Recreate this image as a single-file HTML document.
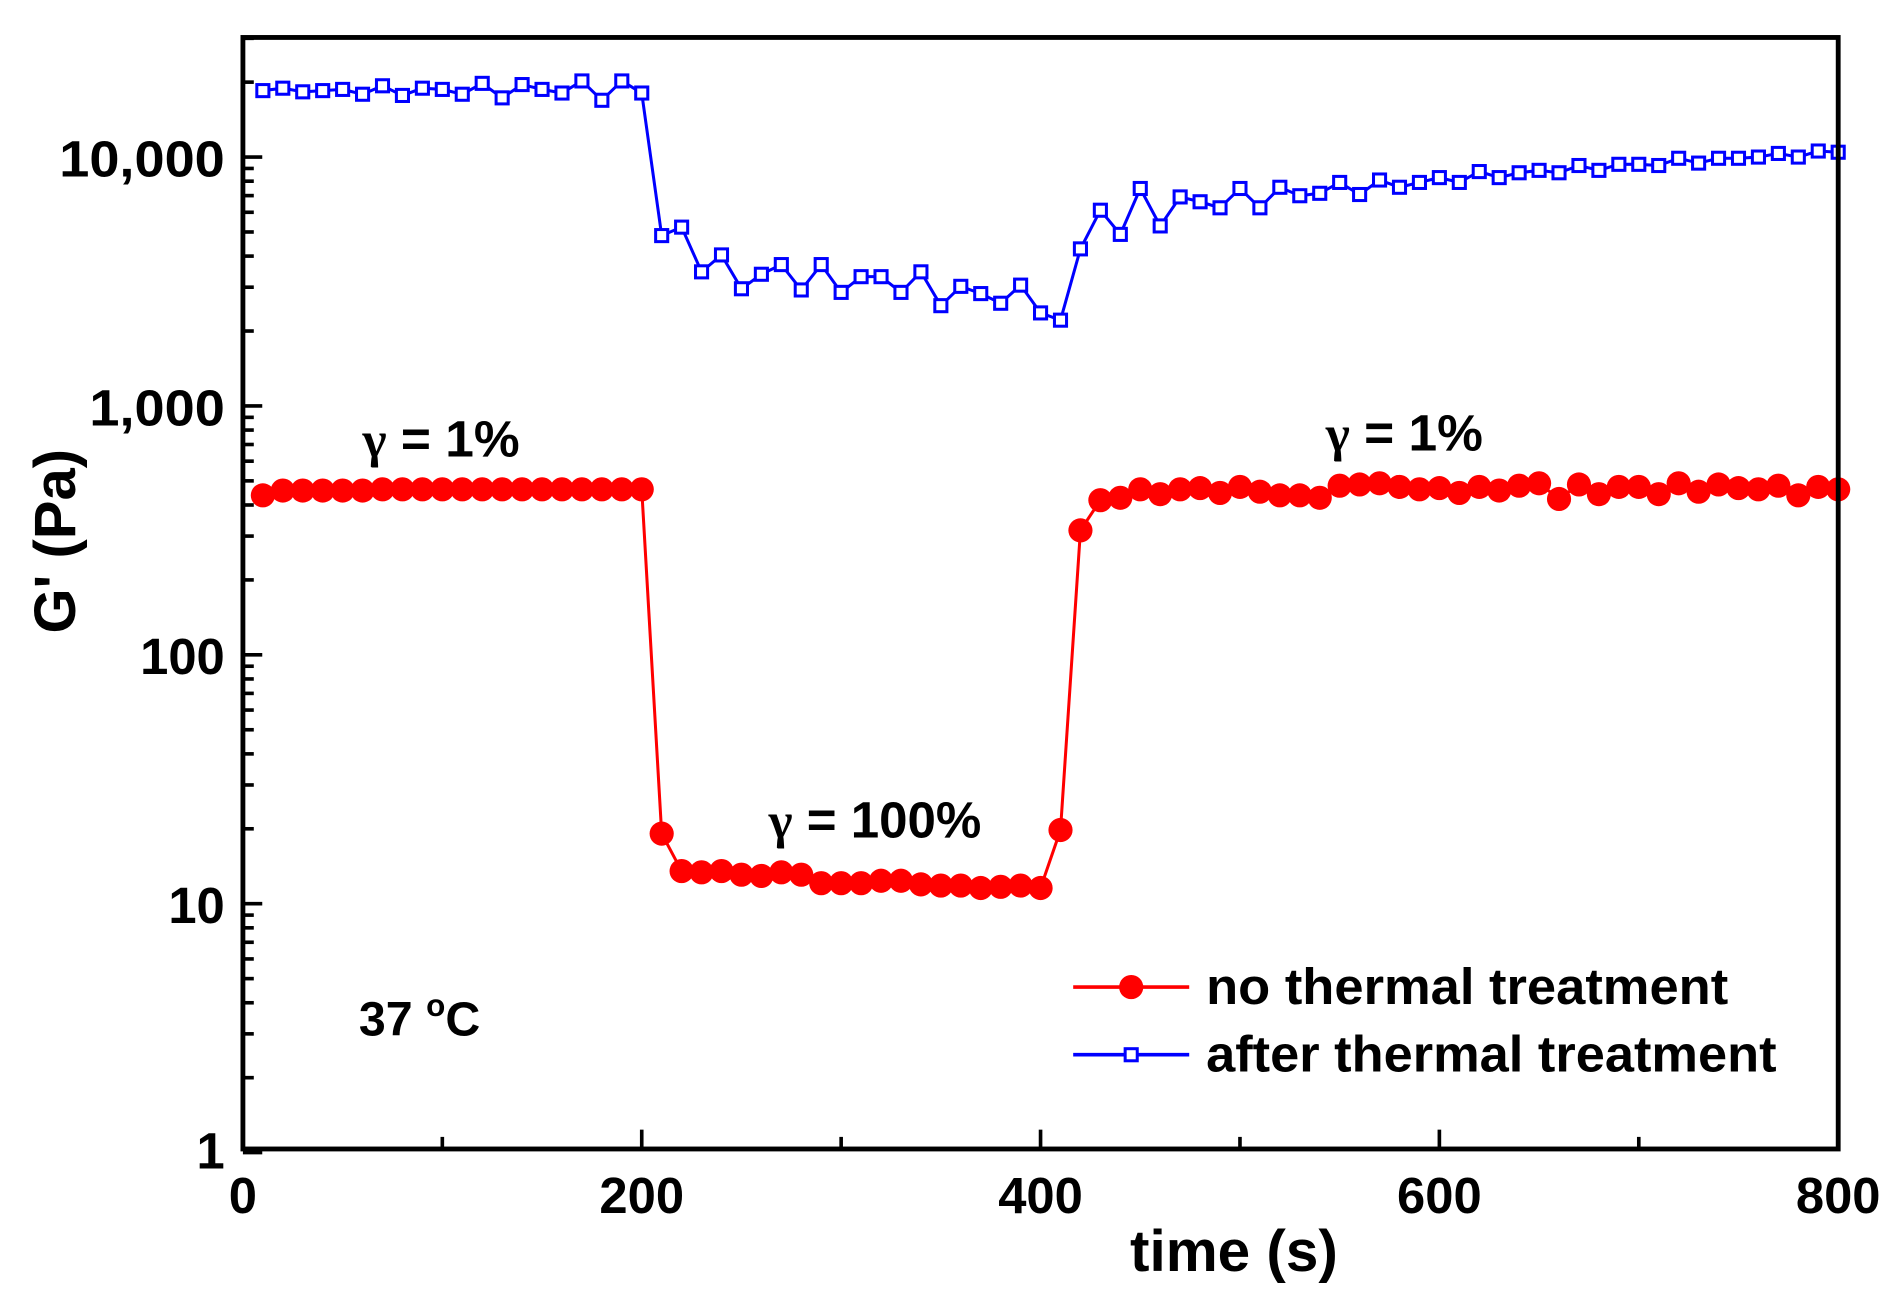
<!DOCTYPE html>
<html><head><meta charset="utf-8"><style>
html,body{margin:0;padding:0;background:#fff;}
svg{display:block;font-family:"Liberation Sans",Arial,sans-serif;font-weight:bold;}
</style></head><body>
<svg id="s" width="1895" height="1300" viewBox="0 0 1568 1076" preserveAspectRatio="none" xmlns="http://www.w3.org/2000/svg">
<rect x="0" y="0" width="1568" height="1076" fill="#fff"/>
<g id="ticks" stroke="#000" stroke-width="3"></g>
<g id="blue"></g>
<g id="red"></g>
<rect x="201" y="31" width="1320" height="920" fill="none" stroke="#000" stroke-width="4"/>
<g font-size="42" text-anchor="end" fill="#000">
<text x="186" y="146" textLength="137" lengthAdjust="spacingAndGlyphs">10,000</text>
<text x="186" y="352" textLength="112" lengthAdjust="spacingAndGlyphs">1,000</text>
<text x="186" y="558">100</text>
<text x="186" y="764">10</text>
<text x="186" y="967">1</text>
</g>
<g font-size="42" text-anchor="middle" fill="#000">
<text x="201" y="1004">0</text>
<text x="531" y="1004">200</text>
<text x="861" y="1004">400</text>
<text x="1191" y="1004">600</text>
<text x="1521" y="1004">800</text>
</g>
<text x="1021" y="1052" font-size="48" text-anchor="middle" textLength="172" lengthAdjust="spacingAndGlyphs">time (s)</text>
<text transform="translate(62,448) rotate(-90)" font-size="48" text-anchor="middle">G' (Pa)</text>
<g font-size="42" fill="#000">
<text x="300" y="378" textLength="130" lengthAdjust="spacingAndGlyphs"><tspan font-family="Liberation Serif">γ</tspan> = 1%</text>
<text x="1097" y="373" textLength="130" lengthAdjust="spacingAndGlyphs"><tspan font-family="Liberation Serif">γ</tspan> = 1%</text>
<text x="636" y="693" textLength="176" lengthAdjust="spacingAndGlyphs"><tspan font-family="Liberation Serif">γ</tspan> = 100%</text>
<text x="297" y="857" font-size="40">37 <tspan dy="-16" font-size="26">o</tspan><tspan dy="16">C</tspan></text>
<text x="998" y="831" textLength="432" lengthAdjust="spacingAndGlyphs">no thermal treatment</text>
<text x="998" y="887" textLength="472" lengthAdjust="spacingAndGlyphs">after thermal treatment</text>
</g>
<line x1="888" y1="817" x2="984" y2="817" stroke="#f00" stroke-width="3"/>
<circle cx="936" cy="817" r="10" fill="#f00"/>
<line x1="888" y1="873" x2="984" y2="873" stroke="#00f" stroke-width="3"/>
<rect x="931" y="868" width="10" height="10" fill="#fff" stroke="#00f" stroke-width="2.5"/>
</svg>
<script>
const NS="http://www.w3.org/2000/svg";
function el(t,a,p){const e=document.createElementNS(NS,t);for(const k in a)e.setAttribute(k,a[k]);p.appendChild(e);return e;}
const X=t=>201+t*1.65;
const B=[75,73,76,75,74,78,71,79,73,74,78,69,81,70,74,77,67,83,67,77,195,188,225,211,239,227,219,240,219,242,229,229,242,225,253,237,243,251,236,259,265,206,174,194,156,187,163,167,172,156,172,155,162,160,151,161,149,155,151,147,151,142,147,143,141,143,137,141,136,136,137,131,135,131,131,130,127,130,125,126];
const R=[410,406,406,406,406,406,405,405,405,405,405,405,405,405,405,405,405,405,405,405,690,721,722,721,724,725,722,724,731,731,731,729,729,732,733,733,735,734,733,735,687,439,414,412,405,409,405,404,408,403,407,410,410,412,402,401,400,403,405,404,408,403,406,402,400,413,401,409,403,403,409,400,407,401,404,405,402,410,403,405];
const bg=document.getElementById('blue'),rg=document.getElementById('red'),tg=document.getElementById('ticks');
el('polyline',{points:B.map((y,i)=>X(10*(i+1))+','+y).join(' '),fill:'none',stroke:'#00f','stroke-width':2.5},bg);
B.forEach((y,i)=>el('rect',{x:X(10*(i+1))-5,y:y-5,width:10,height:10,fill:'#fff',stroke:'#00f','stroke-width':2.5},bg));
el('polyline',{points:R.map((y,i)=>X(10*(i+1))+','+y).join(' '),fill:'none',stroke:'#f00','stroke-width':2.5},rg);
R.forEach((y,i)=>el('circle',{cx:X(10*(i+1)),cy:y,r:10,fill:'#f00'},rg));
for(let d=0;d<5;d++){const base=954-206*d;
 for(let m=1;m<=9;m++){const y=base-206*Math.log10(m);if(y<31)continue;
  el('line',{x1:201,x2:m==1?217:210,y1:y,y2:y},tg);}}
for(let t=0;t<=800;t+=100){el('line',{x1:X(t),x2:X(t),y1:951,y2:t%200==0?935:941},tg);}
</script>
</body></html>
